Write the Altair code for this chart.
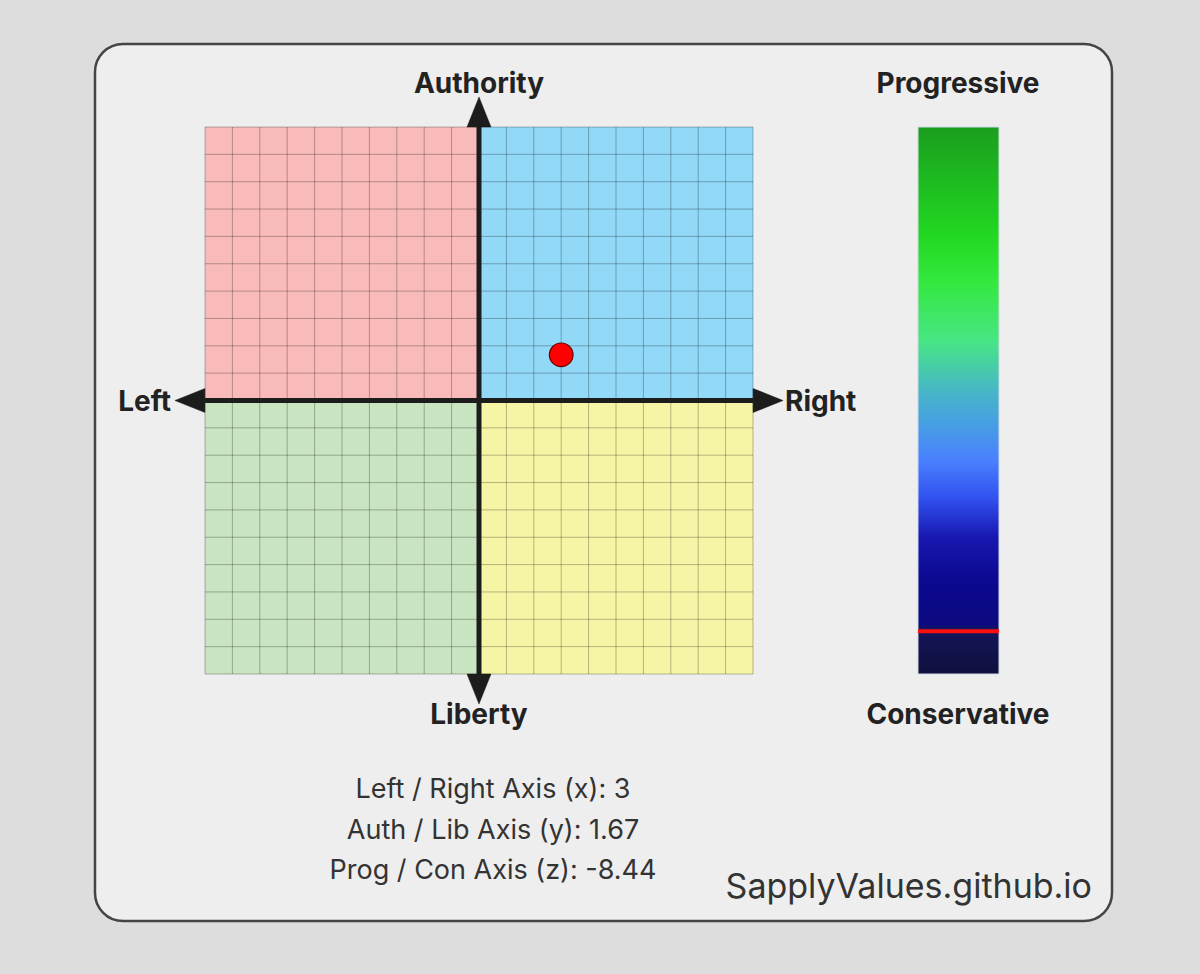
import altair as alt
import pandas as pd

# ---- data ----
grid_vals = list(range(-10, 11))
quad_names = ["Auth-Left", "Auth-Right", "Lib-Left", "Lib-Right"]
quad_x = [-10, 0, -10, 0]
quad_x2 = [0, 10, 0, 10]
quad_y = [0, 0, -10, -10]
quad_y2 = [10, 10, 0, 0]
quad_colors = ["#f9baba", "#92d8f7", "#c9e4c0", "#f6f5a6"]

score_x = [3]
score_y = [1.67]
score_z = [-8.44]

axis_min = [-10]
axis_max = [10]
arrow_names = ["up", "down", "left", "right"]
arrow_x = [0, 0, -10.55, 10.55]
arrow_y = [10.55, -10.55, 0, 0]

bottom_lines = [
    "Left / Right Axis (x): 3",
    "Auth / Lib Axis (y): 1.67",
    "Prog / Con Axis (z): -8.44",
]

FONT = "Inter"
W, H = 548, 547
PAD_L, PAD_T = 205, 127

xs = alt.Scale(domain=[-10, 10], nice=False, zero=False)
ys = alt.Scale(domain=[-10, 10], nice=False, zero=False)

# ---- layers ----
frame = alt.Chart(pd.DataFrame({"a": [0]})).mark_rect(
    fill="#eeeeee", stroke="#444444", strokeWidth=2.5, cornerRadius=28
).encode(
    x=alt.value(95 - PAD_L), x2=alt.value(1112 - PAD_L),
    y=alt.value(44 - PAD_T), y2=alt.value(921 - PAD_T),
)

qdf = pd.DataFrame({"q": quad_names, "x": quad_x, "x2": quad_x2,
                    "y": quad_y, "y2": quad_y2, "c": quad_colors})
quads = alt.Chart(qdf).mark_rect().encode(
    x=alt.X("x:Q", scale=xs, axis=None), x2="x2:Q",
    y=alt.Y("y:Q", scale=ys, axis=None), y2="y2:Q",
    fill=alt.Fill("c:N", scale=None),
)

gdf = pd.DataFrame({"v": grid_vals, "lo": [-10] * len(grid_vals), "hi": [10] * len(grid_vals)})
vgrid = alt.Chart(gdf).mark_rule(color="#000000", opacity=0.27, strokeWidth=1).encode(
    x=alt.X("v:Q", scale=xs, axis=None),
    y=alt.Y("lo:Q", scale=ys, axis=None), y2="hi:Q",
)
hgrid = alt.Chart(gdf).mark_rule(color="#000000", opacity=0.27, strokeWidth=1).encode(
    y=alt.Y("v:Q", scale=ys, axis=None),
    x=alt.X("lo:Q", scale=xs, axis=None), x2="hi:Q",
)

adf = pd.DataFrame({"lo": axis_min, "hi": axis_max, "z": [0]})
haxis = alt.Chart(adf).mark_rule(color="#1c1c1c", strokeWidth=5).encode(
    x=alt.X("lo:Q", scale=xs, axis=None), x2="hi:Q",
    y=alt.Y("z:Q", scale=ys, axis=None),
)
vaxis = alt.Chart(adf).mark_rule(color="#1c1c1c", strokeWidth=5).encode(
    y=alt.Y("lo:Q", scale=ys, axis=None), y2="hi:Q",
    x=alt.X("z:Q", scale=xs, axis=None),
)

paths = {
    "up": "M0,-1L0.8,1L-0.8,1Z",
    "down": "M0,1L0.8,-1L-0.8,-1Z",
    "left": "M-1,0L1,-0.8L1,0.8Z",
    "right": "M1,0L-1,-0.8L-1,0.8Z",
}
ardf = pd.DataFrame({"n": arrow_names, "x": arrow_x, "y": arrow_y})
arrows = alt.Chart(ardf).mark_point(
    filled=True, fill="#1c1c1c", stroke="#1c1c1c", strokeWidth=0.5, opacity=1, size=900
).encode(
    x=alt.X("x:Q", scale=xs, axis=None),
    y=alt.Y("y:Q", scale=ys, axis=None),
    shape=alt.Shape("n:N", scale=alt.Scale(domain=arrow_names,
                                           range=[paths[k] for k in arrow_names]),
                    legend=None),
)

pdf = pd.DataFrame({"x": score_x, "y": score_y})
point = alt.Chart(pdf).mark_point(
    filled=True, fill="#ff0000", stroke="#6a0000", strokeWidth=1.2, opacity=1, size=560, shape="circle"
).encode(
    x=alt.X("x:Q", scale=xs, axis=None),
    y=alt.Y("y:Q", scale=ys, axis=None),
)

# colour bar (same vertical extent as the compass -> shares the y scale)
cb_x, cb_x2 = 918 - PAD_L, 999 - PAD_L
grad = alt.Gradient(
    gradient="linear", x1=0, x2=0, y1=0, y2=1,
    stops=[
        alt.GradientStop(offset=0.0, color="#1a9e1e"),
        alt.GradientStop(offset=0.2, color="#22d822"),
        alt.GradientStop(offset=0.28, color="#33e83c"),
        alt.GradientStop(offset=0.39, color="#48e684"),
        alt.GradientStop(offset=0.48, color="#46b8c4"),
        alt.GradientStop(offset=0.54, color="#47a0e2"),
        alt.GradientStop(offset=0.61, color="#4a80ff"),
        alt.GradientStop(offset=0.68, color="#3050ee"),
        alt.GradientStop(offset=0.75, color="#1818b0"),
        alt.GradientStop(offset=0.83, color="#0c0890"),
        alt.GradientStop(offset=0.91, color="#0c0a80"),
        alt.GradientStop(offset=0.918, color="#14145a"),
        alt.GradientStop(offset=1.0, color="#10103e"),
    ],
)
cbdf = pd.DataFrame({"lo": [-10], "hi": [10]})
colorbar = alt.Chart(cbdf).mark_rect(fill=grad, stroke="#cfd8e8", strokeWidth=1).encode(
    x=alt.value(cb_x), x2=alt.value(cb_x2),
    y=alt.Y("hi:Q", scale=ys, axis=None), y2="lo:Q",
)
zdf = pd.DataFrame({"z": score_z})
zline = alt.Chart(zdf).mark_rule(color="#ff1010", strokeWidth=4).encode(
    x=alt.value(cb_x), x2=alt.value(cb_x2),
    y=alt.Y("z:Q", scale=ys, axis=None),
)


def label(t, x, y, size, weight="bold", align="center", color="#222222"):
    return alt.Chart(pd.DataFrame({"t": [t]})).mark_text(
        font=FONT, fontSize=size, fontWeight=weight, align=align,
        baseline="middle", color=color,
    ).encode(x=alt.value(x - PAD_L), y=alt.value(y - PAD_T), text="t:N")


texts = [
    label("Authority", 479, 85, 28),
    label("Liberty", 479, 716, 28),
    label("Left", 171, 403, 28, align="right"),
    label("Right", 785, 403, 28, align="left"),
    label("Progressive", 958, 85, 28),
    label("Conservative", 958, 716, 28),
    label(bottom_lines[0], 493, 790, 27, weight="normal", color="#333333"),
    label(bottom_lines[1], 493, 831, 27, weight="normal", color="#333333"),
    label(bottom_lines[2], 493, 871, 27, weight="normal", color="#333333"),
    label("SapplyValues.github.io", 1092, 888, 34, weight="normal", align="right", color="#333333"),
]

chart = alt.layer(
    frame, quads, vgrid, hgrid, haxis, vaxis, arrows, point, colorbar, zline, *texts
).properties(
    width=W, height=H,
    padding={"left": PAD_L, "top": PAD_T, "right": 1200 - PAD_L - W, "bottom": 974 - PAD_T - H},
    autosize=alt.AutoSizeParams(type="none"),
).configure(
    background="#dddddd",
).configure_view(stroke=None)

chart.save("out.html", embed_options={"renderer": "svg", "actions": False})
